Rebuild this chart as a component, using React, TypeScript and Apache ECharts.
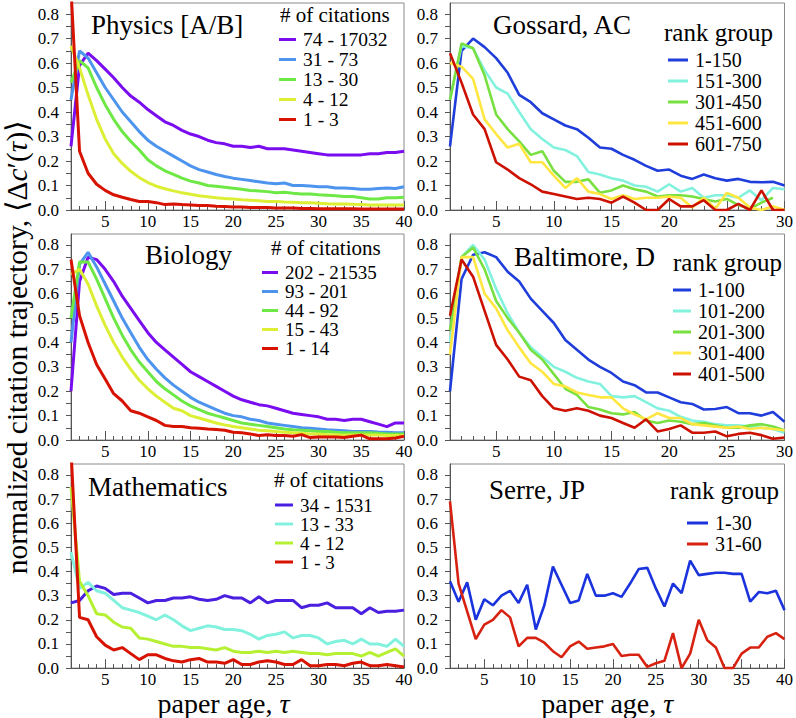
import React, { useEffect, useRef } from 'react';
import * as echarts from 'echarts';

const FONT = 'Liberation Serif, serif';

// ---------- Physics [A/B] ----------
const physicsNames = ['74 - 17032', '31 - 73', '13 - 30', '4 - 12', '1 - 3'];
const physicsColors = ['#7a0cf0', '#4d94ee', '#6ee845', '#dcef35', '#d81200'];
const physics74 = [0.26, 0.59, 0.64, 0.61, 0.575, 0.54, 0.5, 0.465, 0.44, 0.41, 0.385, 0.36, 0.345, 0.325, 0.31, 0.3, 0.285, 0.275, 0.27, 0.26, 0.26, 0.255, 0.26, 0.25, 0.25, 0.25, 0.245, 0.24, 0.235, 0.23, 0.225, 0.225, 0.225, 0.225, 0.225, 0.23, 0.23, 0.235, 0.235, 0.24];
const physics31 = [0.45, 0.65, 0.62, 0.56, 0.5, 0.45, 0.4, 0.36, 0.32, 0.285, 0.26, 0.24, 0.22, 0.2, 0.18, 0.165, 0.155, 0.145, 0.137, 0.13, 0.125, 0.12, 0.115, 0.11, 0.107, 0.11, 0.1, 0.1, 0.098, 0.095, 0.095, 0.09, 0.09, 0.088, 0.085, 0.085, 0.088, 0.09, 0.088, 0.095];
const physics13 = [0.52, 0.61, 0.58, 0.5, 0.43, 0.37, 0.32, 0.28, 0.245, 0.205, 0.18, 0.16, 0.145, 0.13, 0.118, 0.11, 0.1, 0.097, 0.093, 0.089, 0.085, 0.08, 0.078, 0.075, 0.07, 0.072, 0.068, 0.065, 0.065, 0.062, 0.06, 0.058, 0.055, 0.055, 0.05, 0.045, 0.045, 0.05, 0.05, 0.052];
const physics4 = [0.67, 0.58, 0.47, 0.37, 0.29, 0.23, 0.19, 0.158, 0.132, 0.112, 0.097, 0.087, 0.078, 0.07, 0.064, 0.058, 0.054, 0.05, 0.047, 0.045, 0.042, 0.04, 0.038, 0.035, 0.035, 0.033, 0.032, 0.03, 0.03, 0.028, 0.026, 0.025, 0.025, 0.023, 0.022, 0.02, 0.02, 0.02, 0.02, 0.02];
const physics1 = [0.9, 0.24, 0.15, 0.105, 0.08, 0.062, 0.052, 0.043, 0.035, 0.035, 0.03, 0.022, 0.024, 0.022, 0.02, 0.018, 0.018, 0.015, 0.014, 0.012, 0.012, 0.01, 0.01, 0.01, 0.008, 0.008, 0.008, 0.006, 0.006, 0.005, 0.005, 0.005, 0.005, 0.005, 0.004, 0.004, 0.004, 0.004, 0.004, 0.004];

// ---------- Biology ----------
const biologyNames = ['202 - 21535', '93 - 201', '44 - 92', '15 - 43', '1 - 14'];
const biologyColors = ['#7a0cf0', '#4d94ee', '#6ee845', '#dcef35', '#d81200'];
const biology202 = [0.2, 0.65, 0.75, 0.74, 0.7, 0.65, 0.59, 0.54, 0.49, 0.44, 0.4, 0.37, 0.34, 0.31, 0.28, 0.26, 0.24, 0.22, 0.2, 0.18, 0.165, 0.155, 0.145, 0.14, 0.13, 0.12, 0.11, 0.105, 0.1, 0.095, 0.085, 0.085, 0.08, 0.085, 0.085, 0.075, 0.065, 0.055, 0.07, 0.07];
const biology93 = [0.4, 0.72, 0.77, 0.71, 0.64, 0.57, 0.5, 0.44, 0.38, 0.33, 0.29, 0.255, 0.225, 0.2, 0.175, 0.155, 0.14, 0.125, 0.11, 0.1, 0.095, 0.085, 0.08, 0.07, 0.065, 0.06, 0.055, 0.05, 0.048, 0.045, 0.042, 0.04, 0.038, 0.035, 0.035, 0.035, 0.033, 0.032, 0.03, 0.03];
const biology44 = [0.5, 0.73, 0.73, 0.66, 0.58, 0.5, 0.43, 0.37, 0.32, 0.28, 0.24, 0.21, 0.185, 0.16, 0.14, 0.125, 0.11, 0.1, 0.09, 0.08, 0.07, 0.065, 0.06, 0.055, 0.05, 0.045, 0.042, 0.04, 0.038, 0.035, 0.035, 0.032, 0.03, 0.03, 0.03, 0.03, 0.028, 0.025, 0.025, 0.025];
const biology15 = [0.68, 0.7, 0.64, 0.55, 0.47, 0.4, 0.34, 0.29, 0.245, 0.21, 0.18, 0.155, 0.13, 0.12, 0.1, 0.09, 0.08, 0.07, 0.062, 0.055, 0.05, 0.045, 0.04, 0.038, 0.035, 0.032, 0.03, 0.028, 0.025, 0.025, 0.022, 0.022, 0.02, 0.02, 0.02, 0.02, 0.02, 0.018, 0.018, 0.018];
const biology1 = [0.74, 0.51, 0.4, 0.31, 0.25, 0.19, 0.16, 0.12, 0.11, 0.095, 0.08, 0.06, 0.055, 0.055, 0.05, 0.048, 0.045, 0.043, 0.04, 0.032, 0.03, 0.025, 0.018, 0.022, 0.018, 0.018, 0.015, 0.022, 0.01, 0.012, 0.012, 0.012, 0.01, 0.015, 0.02, 0.005, 0.005, 0.005, 0.008, 0.015];

// ---------- Mathematics ----------
const mathNames = ['34 - 1531', '13 - 33', '4 - 12', '1 - 3'];
const mathColors = ['#4a1fe0', '#82f2de', '#b6f032', '#d81200'];
const math34 = [0.27, 0.28, 0.32, 0.34, 0.33, 0.305, 0.31, 0.31, 0.29, 0.27, 0.28, 0.28, 0.29, 0.29, 0.295, 0.285, 0.28, 0.285, 0.3, 0.29, 0.29, 0.27, 0.295, 0.27, 0.28, 0.28, 0.28, 0.25, 0.26, 0.26, 0.27, 0.25, 0.25, 0.25, 0.225, 0.25, 0.23, 0.235, 0.235, 0.24];
const math13 = [0.48, 0.33, 0.355, 0.32, 0.31, 0.28, 0.25, 0.24, 0.23, 0.215, 0.2, 0.22, 0.2, 0.175, 0.155, 0.165, 0.175, 0.17, 0.16, 0.16, 0.155, 0.14, 0.12, 0.135, 0.14, 0.15, 0.125, 0.135, 0.135, 0.125, 0.1, 0.11, 0.115, 0.1, 0.12, 0.1, 0.1, 0.09, 0.12, 0.09];
const math4 = [0.75, 0.36, 0.3, 0.225, 0.22, 0.19, 0.17, 0.165, 0.125, 0.12, 0.11, 0.1, 0.09, 0.09, 0.085, 0.085, 0.08, 0.075, 0.085, 0.07, 0.065, 0.065, 0.07, 0.065, 0.07, 0.065, 0.07, 0.065, 0.06, 0.06, 0.055, 0.06, 0.06, 0.06, 0.05, 0.065, 0.05, 0.065, 0.08, 0.05];
const math1 = [0.9, 0.21, 0.2, 0.13, 0.095, 0.075, 0.085, 0.06, 0.035, 0.055, 0.055, 0.04, 0.03, 0.025, 0.035, 0.04, 0.025, 0.025, 0.02, 0.035, 0.015, 0.015, 0.025, 0.03, 0.025, 0.015, 0.015, 0.035, 0.01, 0.01, 0.015, 0.015, 0.01, 0.02, 0.025, 0.01, 0.01, 0.015, 0.01, 0.005];

// ---------- Gossard, AC ----------
const gossardNames = ['1-150', '151-300', '301-450', '451-600', '601-750'];
const gossardColors = ['#1f3ddb', '#82f2de', '#78e040', '#ffe640', '#cc1100'];
const gossard1 = [0.26, 0.65, 0.7, 0.665, 0.62, 0.56, 0.47, 0.44, 0.395, 0.37, 0.345, 0.33, 0.295, 0.255, 0.25, 0.225, 0.205, 0.18, 0.16, 0.165, 0.14, 0.127, 0.145, 0.13, 0.12, 0.127, 0.115, 0.113, 0.115, 0.1];
const gossard151 = [0.45, 0.67, 0.66, 0.57, 0.5, 0.475, 0.4, 0.33, 0.29, 0.255, 0.245, 0.22, 0.155, 0.145, 0.13, 0.12, 0.1, 0.095, 0.075, 0.105, 0.075, 0.09, 0.05, 0.06, 0.06, 0.05, 0.08, 0.04, 0.09, 0.085];
const gossard301 = [0.45, 0.68, 0.66, 0.55, 0.39, 0.33, 0.28, 0.225, 0.24, 0.16, 0.115, 0.115, 0.125, 0.07, 0.08, 0.1, 0.085, 0.075, 0.055, 0.06, 0.06, 0.055, 0.045, 0.035, 0.045, 0.02, 0.005, 0.03, 0.05];
const gossard451 = [0.6, 0.585, 0.535, 0.37, 0.31, 0.255, 0.27, 0.195, 0.195, 0.14, 0.09, 0.13, 0.075, 0.065, 0.045, 0.06, 0.045, 0.05, 0.05, 0.055, 0.05, 0.01, 0.05, 0.005, 0.07, 0.05, 0.01, 0.0, 0.015, 0.0];
const gossard601 = [0.64, 0.52, 0.39, 0.33, 0.195, 0.165, 0.13, 0.105, 0.075, 0.065, 0.055, 0.045, 0.05, 0.045, 0.03, 0.055, 0.03, 0.0, 0.0, 0.045, 0.015, 0.015, 0.04, 0.0, 0.0, 0.025, 0.0, 0.08, 0.0, 0.0];

// ---------- Baltimore, D ----------
const baltimoreNames = ['1-100', '101-200', '201-300', '301-400', '401-500'];
const baltimoreColors = ['#1f3ddb', '#82f2de', '#78e040', '#ffe640', '#cc1100'];
const baltimore1 = [0.2, 0.66, 0.76, 0.77, 0.75, 0.69, 0.65, 0.58, 0.53, 0.48, 0.41, 0.37, 0.33, 0.3, 0.275, 0.24, 0.225, 0.195, 0.195, 0.175, 0.155, 0.148, 0.125, 0.127, 0.135, 0.11, 0.11, 0.1, 0.115, 0.075];
const baltimore101 = [0.4, 0.75, 0.8, 0.74, 0.62, 0.52, 0.44, 0.38, 0.34, 0.3, 0.28, 0.255, 0.24, 0.23, 0.18, 0.175, 0.18, 0.155, 0.13, 0.12, 0.095, 0.08, 0.075, 0.065, 0.06, 0.06, 0.055, 0.05, 0.045, 0.03];
const baltimore201 = [0.45, 0.75, 0.79, 0.7, 0.57, 0.5, 0.44, 0.37, 0.33, 0.27, 0.21, 0.185, 0.135, 0.125, 0.11, 0.105, 0.115, 0.08, 0.07, 0.08, 0.075, 0.065, 0.07, 0.06, 0.05, 0.05, 0.06, 0.065, 0.055, 0.04];
const baltimore301 = [0.35, 0.75, 0.75, 0.6, 0.54, 0.45, 0.38, 0.315, 0.28, 0.23, 0.22, 0.195, 0.185, 0.175, 0.175, 0.13, 0.105, 0.085, 0.11, 0.09, 0.09, 0.065, 0.06, 0.055, 0.05, 0.055, 0.045, 0.05, 0.045, 0.04];
const baltimore401 = [0.51, 0.74, 0.67, 0.53, 0.39, 0.33, 0.26, 0.245, 0.18, 0.13, 0.12, 0.13, 0.12, 0.1, 0.09, 0.07, 0.05, 0.085, 0.035, 0.045, 0.06, 0.03, 0.03, 0.035, 0.015, 0.025, 0.03, 0.02, 0.005, 0.01];

// ---------- Serre, JP ----------
const serreNames = ['1-30', '31-60'];
const serreColors = ['#1a33dd', '#d82211'];
const serre1 = [0.36, 0.275, 0.355, 0.2, 0.285, 0.26, 0.3, 0.32, 0.27, 0.345, 0.16, 0.26, 0.42, 0.345, 0.27, 0.28, 0.39, 0.3, 0.3, 0.31, 0.295, 0.35, 0.41, 0.415, 0.33, 0.255, 0.35, 0.31, 0.445, 0.385, 0.39, 0.395, 0.395, 0.39, 0.39, 0.275, 0.315, 0.31, 0.32, 0.24];
const serre31 = [0.69, 0.35, 0.235, 0.12, 0.18, 0.2, 0.24, 0.21, 0.09, 0.125, 0.125, 0.105, 0.07, 0.045, 0.09, 0.11, 0.08, 0.085, 0.09, 0.1, 0.05, 0.055, 0.055, 0.005, 0.02, 0.03, 0.145, 0.0, 0.06, 0.2, 0.115, 0.085, 0.0, 0.0, 0.06, 0.085, 0.085, 0.13, 0.145, 0.12];

const xLabels40 = [5, 10, 15, 20, 25, 30, 35, 40];
const xLabels30 = [5, 10, 15, 20, 25, 30];
const yMax = 0.845;

type Panel = {
  title: string; legendTitle: string; names: string[]; colors: string[]; values: number[][];
  xMax: number; col: number; row: number; lineWidth: number;
  titlePos: [number, number]; ltPos: [number, number]; ltSize: number;
  legPos: [number, number]; legLine: number; legLH: number; legFont: number;
};

const panels: Panel[] = [
  { title: 'Physics [A/B]', legendTitle: '# of citations', names: physicsNames, colors: physicsColors,
    values: [physics74, physics31, physics13, physics4, physics1], xMax: 40, col: 0, row: 0, lineWidth: 3,
    titlePos: [91, 11], ltPos: [280, 4], ltSize: 21, legPos: [279, 29.5], legLine: 17, legLH: 19.5, legFont: 19.5 },
  { title: 'Gossard, AC', legendTitle: 'rank group', names: gossardNames, colors: gossardColors,
    values: [gossard1, gossard151, gossard301, gossard451, gossard601], xMax: 30, col: 1, row: 0, lineWidth: 2.6,
    titlePos: [493, 11], ltPos: [664, 20], ltSize: 25, legPos: [668, 49.5], legLine: 20, legLH: 21, legFont: 20 },
  { title: 'Biology', legendTitle: '# of citations', names: biologyNames, colors: biologyColors,
    values: [biology202, biology93, biology44, biology15, biology1], xMax: 40, col: 0, row: 1, lineWidth: 3,
    titlePos: [145, 241], ltPos: [271, 237], ltSize: 21, legPos: [262, 263], legLine: 16, legLH: 19, legFont: 19 },
  { title: 'Baltimore, D', legendTitle: 'rank group', names: baltimoreNames, colors: baltimoreColors,
    values: [baltimore1, baltimore101, baltimore201, baltimore301, baltimore401], xMax: 30, col: 1, row: 1, lineWidth: 2.6,
    titlePos: [514, 243], ltPos: [673, 250], ltSize: 25, legPos: [673, 279.5], legLine: 18, legLH: 21, legFont: 20 },
  { title: 'Mathematics', legendTitle: '# of citations', names: mathNames, colors: mathColors,
    values: [math34, math13, math4, math1], xMax: 40, col: 0, row: 2, lineWidth: 3,
    titlePos: [88, 473], ltPos: [274, 469], ltSize: 21, legPos: [275, 495.5], legLine: 18, legLH: 19, legFont: 19 },
  { title: 'Serre, JP', legendTitle: 'rank group', names: serreNames, colors: serreColors,
    values: [serre1, serre31], xMax: 40, col: 1, row: 2, lineWidth: 2.6,
    titlePos: [489, 476], ltPos: [670, 478], ltSize: 25, legPos: [687, 512.5], legLine: 21, legLH: 21, legFont: 20 },
];

const colLeft = [71, 450];
const colWidth = [333, 335];
const rowTop = [3, 234, 464];
const rowHeight = [207, 206, 207];

function buildOption() {
  const grid: any[] = [];
  const xAxis: any[] = [];
  const yAxis: any[] = [];
  const series: any[] = [];
  const title: any[] = [];
  const legend: any[] = [];
  const axisColor = '#555';

  panels.forEach((p, i) => {
    grid.push({ left: colLeft[p.col], top: rowTop[p.row], width: colWidth[p.col], height: rowHeight[p.row],
      show: true, borderColor: '#8a8a8a', borderWidth: 1, backgroundColor: 'transparent', containLabel: false });
    const labels = p.xMax === 40 ? xLabels40 : xLabels30;
    const minorVals: number[] = [];
    for (let k = 1; k <= p.xMax; k++) minorVals.push(k);
    const isBottom = p.row === 2;
    xAxis.push({
      type: 'value', gridIndex: i, min: 1, max: p.xMax, position: 'bottom',
      axisLine: { show: true, onZero: false, lineStyle: { color: axisColor, width: 1 } },
      axisTick: { show: true, inside: true, length: 9, customValues: labels, lineStyle: { color: axisColor } },
      axisLabel: { show: true, customValues: labels, margin: 3, fontFamily: FONT, fontSize: 17, color: '#000' },
      splitLine: { show: false },
      name: isBottom ? '{a|paper age, }{i|τ}' : '',
      nameLocation: 'middle', nameGap: 13,
      nameTextStyle: {
        padding: [0, p.col === 0 ? 28 : 20, 0, 0],
        rich: {
          a: { fontFamily: FONT, fontSize: 28, color: '#000' },
          i: { fontFamily: FONT, fontSize: 28, fontStyle: 'italic', color: '#000' },
        },
      },
    });
    xAxis.push({
      type: 'value', gridIndex: i, min: 1, max: p.xMax, position: 'bottom',
      axisLine: { show: false, onZero: false },
      axisTick: { show: true, inside: true, length: 4, customValues: minorVals, lineStyle: { color: axisColor } },
      axisLabel: { show: false },
      splitLine: { show: false },
    });
    yAxis.push({
      type: 'value', gridIndex: i, min: 0, max: yMax, interval: 0.05,
      axisLine: { show: true, onZero: false, lineStyle: { color: axisColor, width: 1 } },
      axisTick: { show: true, inside: false, length: 5, lineStyle: { color: axisColor } },
      axisLabel: {
        show: true, margin: 12, fontFamily: FONT, fontSize: 17, color: '#000', showMaxLabel: false,
        formatter: (v: number) => (Math.round(v * 100) % 10 === 0 ? v.toFixed(1) : ''),
      },
      splitLine: { show: false },
    });
    p.values.forEach((vals, j) => {
      series.push({
        type: 'line', name: p.names[j], xAxisIndex: 2 * i, yAxisIndex: i,
        data: vals.map((v, k) => [k + 1, v]),
        symbol: 'none', clip: true, z: 2 + j,
        lineStyle: { width: p.lineWidth, color: p.colors[j] },
        itemStyle: { color: p.colors[j] },
      });
    });
    title.push({ text: p.title, left: p.titlePos[0], top: p.titlePos[1], padding: 0,
      textStyle: { fontFamily: FONT, fontSize: 27, fontWeight: 'normal', color: '#000' } });
    title.push({ text: p.legendTitle, left: p.ltPos[0], top: p.ltPos[1], padding: 0,
      textStyle: { fontFamily: FONT, fontSize: p.ltSize, fontWeight: 'normal', color: '#000' } });
    legend.push({
      show: true, orient: 'vertical', left: p.legPos[0], top: p.legPos[1], padding: 0, itemGap: 0,
      itemWidth: p.legLine, itemHeight: 3, icon: 'rect', selectedMode: false,
      data: p.names.map((n, j) => ({ name: n, itemStyle: { color: p.colors[j] } })),
      textStyle: { fontFamily: FONT, fontSize: p.legFont, lineHeight: p.legLH, color: '#000', padding: [0, 0, 0, 2] },
    });
  });

  return {
    animation: false,
    backgroundColor: '#fff',
    grid, xAxis, yAxis, series, title, legend,
    graphic: [
      {
        type: 'text', x: 17, y: 347, rotation: Math.PI / 2,
        style: {
          text: '{a|normalized citation trajectory, ⟨Δ}{i|c}{a|′(}{i|τ}{a|)⟩}',
          align: 'center', verticalAlign: 'middle',
          rich: {
            a: { fontFamily: FONT, fontSize: 29.5, fill: '#000' },
            i: { fontFamily: FONT, fontSize: 29.5, fontStyle: 'italic', fill: '#000' },
          },
        },
      },
    ],
  };
}

export default function App() {
  const ref = useRef<HTMLDivElement>(null);
  useEffect(() => {
    if (!ref.current) return;
    const chart = echarts.init(ref.current, undefined, { renderer: 'svg' });
    chart.setOption(buildOption() as any);
    return () => chart.dispose();
  }, []);
  return <div ref={ref} style={{ position: 'absolute', left: 0, top: 0, width: 796, height: 718 }} />;
}
